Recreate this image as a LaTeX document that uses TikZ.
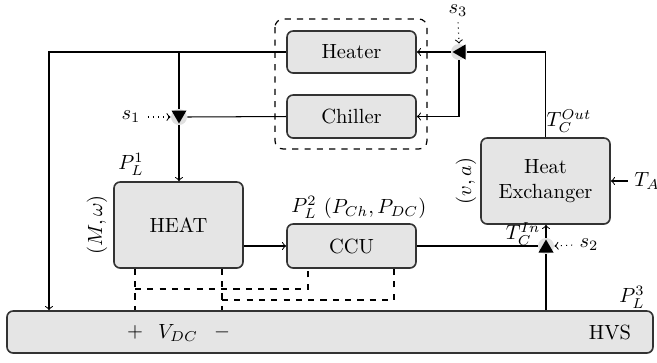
\documentclass[tikz,border=0pt]{standalone}
\usetikzlibrary{calc}
\tikzset{
  blk/.style={draw=black!80, line width=0.8pt, fill=black!10, rounded corners=3pt, inner sep=0pt, font=\normalsize, align=center},
  valvebg/.style={circle, fill=black!12, minimum size=16*0.4875pt, inner sep=0pt},
  conn/.style={line width=0.5pt},
  sig/.style={dotted, ->, line width=0.5pt},
  lbl/.style={inner sep=0.5pt},
}
\begin{document}
\begin{tikzpicture}[x=0.4875pt,y=-0.4875pt, >=to]
\useasboundingbox (0,0) rectangle (657,362);
% dashed enclosure
\draw[dashed, line width=0.6pt, rounded corners=4pt] (275,19) rectangle (427,149);
% blocks
\node[blk, minimum width=129*0.4875pt, minimum height=42*0.4875pt] (heater) at (351.5,52) {Heater};
\node[blk, minimum width=129*0.4875pt, minimum height=43*0.4875pt] (chiller) at (351.5,116.5) {Chiller};
\node[blk, minimum width=129*0.4875pt, minimum height=86*0.4875pt] (he) at (545.5,181) {Heat\\Exchanger};
\node[blk, minimum width=129*0.4875pt, minimum height=86*0.4875pt] (heat) at (178.5,225) {HEAT};
\node[blk, minimum width=129*0.4875pt, minimum height=44*0.4875pt] (ccu) at (351.5,246) {CCU};
\node[blk, minimum width=646*0.4875pt, minimum height=42*0.4875pt] (hvs) at (330,332) {};
\node (hvslbl) at (610,332) {HVS};
\node (plus) at (135,332) {$+$};
\node (vdc) at (178,333) {$V_{DC}$};
\node (minus) at (222,332) {$-$};
% valves
\node[valvebg] (v1) at (179,117) {};
\fill ([shift={(-7.5,-6.5)}]v1.center) -- ([shift={(7.5,-6.5)}]v1.center) -- ([shift={(0,6.5)}]v1.center) -- cycle;
\node[valvebg] (v3) at (459,52) {};
\fill ([shift={(6.5,-7.5)}]v3.center) -- ([shift={(6.5,7.5)}]v3.center) -- ([shift={(-6.5,0)}]v3.center) -- cycle;
\node[valvebg] (v2) at (546,246) {};
\fill ([shift={(-7.5,6.5)}]v2.center) -- ([shift={(7.5,6.5)}]v2.center) -- ([shift={(0,-6.5)}]v2.center) -- cycle;
% coordinates
\coordinate (tl) at (49,52);
\coordinate (da) at (135,289);
\coordinate (db) at (222,300);
\coordinate (ca) at (308,289);
\coordinate (cb) at (394,300);
% connectors
\draw[conn,->] (heater.west) -- (tl) -- (hvs.north -| tl);
\draw[conn] (heater.west -| v1) -- (v1.north);
\draw[conn,->] (v1.south) -- (heat.north -| v1);
\draw[conn] (chiller.west) -- (v1.east);
\draw[conn,->] (v3.west) -- (heater.east);
\draw[conn,->] (v3.south) |- (chiller.east);
\draw[conn] (v3.east) -| (he.north);
\draw[conn,->] (ccu.west -| heat.east) -- (ccu.west);
\draw[conn] (ccu.east) -- (v2.west);
\draw[conn,->] (v2.north) -- (he.south -| v2);
\draw[conn] (hvs.north -| v2) -- (v2.south);
% dashed links
\draw[dashed, line width=0.5pt] (heat.south -| da) -- (hvs.north -| da);
\draw[dashed, line width=0.5pt] (heat.south -| db) -- (hvs.north -| db);
\draw[dashed, line width=0.5pt] (da) -- (ca) -- (ccu.south -| ca);
\draw[dashed, line width=0.5pt] (db) -- (cb) -- (ccu.south -| cb);
% signals
\node[lbl] (s1) at (131,117) {$s_1$};
\draw[sig] (s1.east) ++(6,0) -- (v1.west);
\node[lbl] (s3) at (458,11) {$s_3$};
\draw[sig] (s3.south) ++(0,4) -- (v3.north);
\node[lbl] (s2) at (589,245) {$s_2$};
\draw[sig] (s2.west) ++(-6,0) -- (v2.east);
\node[lbl] (ta) at (647,181) {$T_A$};
\draw[conn,->,shorten <=2.5pt] (ta.west) -- (he.east);
% labels
\node[lbl] (pl1) at (131,164) {$P_L^1$};
\node[lbl, rotate=90] (mw) at (97,225) {$(M,\omega)$};
\node[lbl] (pl2) at (304,207) {$P_L^2$};
\node[lbl] (pch) at (375,208) {$(P_{Ch},P_{DC})$};
\node[lbl] (tcout) at (569,121) {$T_C^{Out}$};
\node[lbl, rotate=90] (va) at (466,181) {$(v,a)$};
\node[lbl] (tcin) at (523,234) {$T_C^{In}$};
\node[lbl] (pl3) at (632,297) {$P_L^3$};
\end{tikzpicture}
\end{document}
